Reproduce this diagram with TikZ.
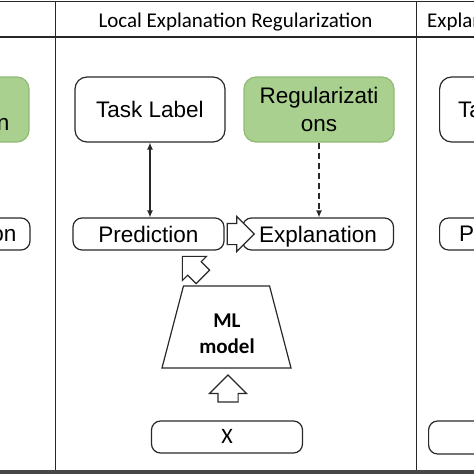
\documentclass[tikz,border=0pt]{standalone}
\usepackage{fontspec}
\setmainfont{Liberation Sans}
\newfontfamily\headfont{Carlito}
\usetikzlibrary{positioning,shapes.geometric,shapes.arrows,arrows.meta}

\definecolor{regfill}{RGB}{169,208,142}
\definecolor{regline}{RGB}{145,186,115}
\definecolor{boxline}{RGB}{40,40,40}

\tikzset{
  rbox/.style={draw=boxline, line width=1.2pt, rounded corners=9pt, fill=white,
    inner sep=0pt, font=\fontsize{22.5}{28}\selectfont},
  tallbox/.style={rbox, minimum width=150pt, minimum height=65pt, rounded corners=12pt},
  flatbox/.style={rbox, minimum width=151pt, minimum height=32pt, text height=16pt, text depth=0pt},
  regbox/.style={tallbox, fill=regfill, draw=regline, align=center},
  cuttext/.style={inner sep=0pt, font=\fontsize{22.5}{28}\selectfont},
  headtext/.style={inner sep=0pt, font=\headfont\fontsize{21}{25}\selectfont},
  blockarrow/.style={single arrow, draw=boxline, fill=white, line width=1.2pt,
    inner sep=0pt, single arrow head indent=0pt},
  panelline/.style={draw=boxline, line width=1.2pt},
  linkarrow/.style={draw=boxline, line width=1.2pt, -{Latex[length=7pt,width=6pt]}},
}

\begin{document}
\begin{tikzpicture}[x=1pt,y=-1pt]
  \useasboundingbox (0,0) rectangle (474,474);
  \clip (0,0) rectangle (474,474);

  % panel frame
  \draw[panelline] (-5,1.5) -- (480,1.5);
  \draw[panelline] (-5,37) -- (480,37);
  \draw[panelline] (55.5,1.5) -- (55.5,470);
  \draw[panelline] (416.5,1.5) -- (416.5,470);
  \draw[line width=4pt, draw=black!72] (-5,472) -- (480,472);

  \node[headtext, anchor=base] (head) at (235.5,27) {Local Explanation Regularization};
  \node[headtext, anchor=base west] (headr) at (427,27) {Explan};

  % left panel (cut)
  \node[regbox] (lreg) at (-46,109.5) {};
  \node[cuttext, anchor=east] (lregtxt) at (9.5,124.5) {n};
  \node[flatbox] (lexpl) at (-45.5,234) {};
  \node[cuttext, anchor=east] (lexpltxt) at (16.5,236) {on};

  % middle panel
  \node[tallbox] (task) at (150,109.5) {Task Label};
  \node[regbox] (reg) at (319,109.5) {Regularizati\\ons};
  \node[flatbox] (pred) at (148.5,234) {Prediction};
  \node[flatbox] (expl) at (318,234) {Explanation};
  \node[trapezium, trapezium angle=76, trapezium stretches=true, draw=boxline,
    line width=1.2pt, minimum width=129pt, minimum height=82pt, inner sep=1pt] (model) at (226.5,327) {};
  \node[headtext, font=\headfont\bfseries\fontsize{21}{26}\selectfont, align=center] (modeltxt) at (227,334) {ML\\model};
  \node[flatbox, font=\headfont\fontsize{22}{24}\selectfont, text height=13.5pt] (xin) at (227,437) {X};

  \draw[linkarrow, {Latex[length=7pt,width=6pt]}-{Latex[length=7pt,width=6pt]}] (task.south) -- (task.south |- pred.north);
  \draw[linkarrow, dash pattern=on 6pt off 4pt] (reg.south) -- (reg.south |- expl.north);

  \node[blockarrow, minimum height=27pt, inner ysep=9.5pt, single arrow head extend=8.5pt, rotate=90] (upx) at (228,393.5) {};
  \node[blockarrow, minimum height=27pt, inner ysep=10pt, single arrow head extend=7pt] (toexpl) at (235.5,234) {};
  \node[blockarrow, minimum height=29pt, inner ysep=9pt, single arrow head extend=7.5pt, rotate=135] (topred) at (196,270) {};

  % right panel (cut)
  \node[tallbox, anchor=west] (rtask) at (439,109.5) {};
  \node[cuttext, anchor=west] (rtasktxt) at (458,110) {Ta};
  \node[flatbox, anchor=west] (rpred) at (439,234) {};
  \node[cuttext, anchor=west] (rpredtxt) at (459,234) {P};
  \node[flatbox, anchor=west, minimum height=33pt] (rxin) at (428,437.5) {};
\end{tikzpicture}
\end{document}
